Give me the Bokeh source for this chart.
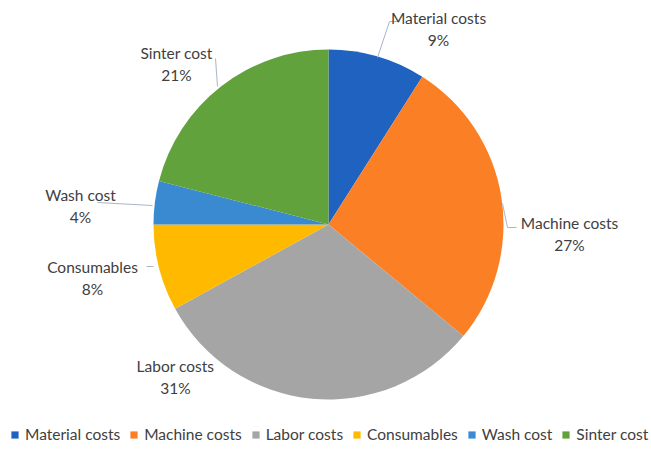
import math
from bokeh.plotting import figure
from bokeh.models import Range1d, Legend, LegendItem, ColumnDataSource
from bokeh.core.properties import value
from bokeh.embed import file_html
from bokeh.resources import INLINE

# ---- data ----
categories = ["Material costs", "Machine costs", "Labor costs", "Consumables", "Wash cost", "Sinter cost"]
shares = [9, 27, 31, 8, 4, 21]
pct_labels = ["9%", "27%", "31%", "8%", "4%", "21%"]

# ---- style / layout ----
colors = ["#1F62C0", "#FA7F25", "#A5A5A5", "#FFBA00", "#3A8AD2", "#62A23C"]
W, H = 651, 449
FONT = "Lato"
FS = "15.5px"
TXT = "#404040"

def fx(px):  # page x -> data x
    return px

def fy(py):  # page y -> data y
    return H - py

cx, cy, R = fx(328), fy(224), 175

# label anchors (page pixels, centre of the two-line block)
label_pos = [(438, 28), (569, 233), (175, 376), (92, 277), (80, 205), (176, 63)]
leaders = [
    [(377, 57), (389, 21), (399, 21)],
    [(502, 203), (507, 227), (516, 227)],
    None,
    [(146, 266), (153, 266)],
    [(97, 202), (152, 205)],
    [(215, 58), (217, 86)],
]

p = figure(width=W, height=H, output_backend="svg", toolbar_location=None,
           x_range=Range1d(0, W), y_range=Range1d(0, H),
           min_border=0, outline_line_color=None)
p.axis.visible = False
p.grid.visible = False

total = float(sum(shares))
starts, ends = [], []
cum = 0.0
for s in shares:
    a0 = math.pi / 2 - 2 * math.pi * cum / total
    cum += s
    a1 = math.pi / 2 - 2 * math.pi * cum / total
    starts.append(a0)
    ends.append(a1)

src = ColumnDataSource(dict(x=[cx] * len(shares), y=[cy] * len(shares),
                            start=starts, end=ends, color=colors, name=categories))
p.wedge(x="x", y="y", radius=R, start_angle="start", end_angle="end",
        direction="clock", fill_color="color", line_color=None, source=src)

# leader lines
for pts in leaders:
    if pts:
        p.line([fx(a) for a, b in pts], [fy(b) for a, b in pts],
               line_color="#A8B6CA", line_width=1)

# data labels
lx = [fx(a) for a, b in label_pos]
ly1 = [fy(b) + 11 for a, b in label_pos]
ly2 = [fy(b) - 11 for a, b in label_pos]
p.text(x=lx, y=ly1, text=categories, text_align="center", text_baseline="middle",
       text_font=value(FONT), text_font_size=FS, text_color=TXT)
p.text(x=lx, y=ly2, text=pct_labels, text_align="center", text_baseline="middle",
       text_font=value(FONT), text_font_size=FS, text_color=TXT)

# legend with square swatches
items = []
for name, col in zip(categories, colors):
    r = p.quad(left=[-100], right=[-90], bottom=[-100], top=[-90], fill_color=col, line_color=None)
    items.append(LegendItem(label=name, renderers=[r]))
legend = Legend(items=items, orientation="horizontal", location=(10, 6),
                glyph_width=9, glyph_height=9, label_standoff=6, spacing=9,
                padding=0, margin=0, border_line_color=None, background_fill_alpha=0,
                label_text_font=FONT, label_text_font_size=FS, label_text_color=TXT,
                label_height=10)
p.add_layout(legend, "center")

open("out.html", "w").write(file_html(p, INLINE))
